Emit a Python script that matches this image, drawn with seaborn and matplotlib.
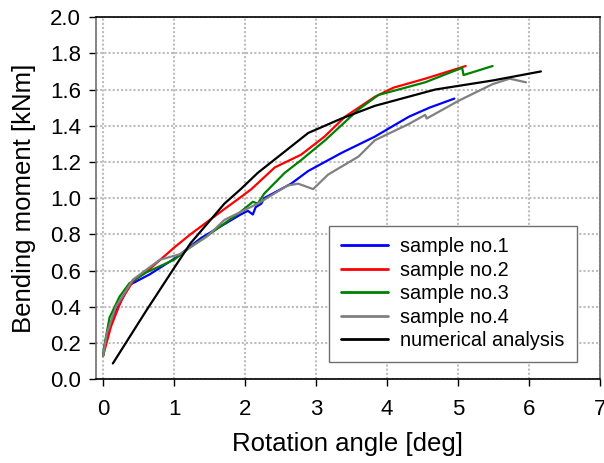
import pandas as pd
import matplotlib.pyplot as plt
import seaborn as sns

# 1. 데이터
s1_x = [0.0, 0.05, 0.16, 0.37, 0.66, 1.04, 1.38, 1.94, 2.04, 2.11, 2.15, 2.23, 2.27, 2.65, 2.89, 3.36, 3.83, 4.31, 4.6, 4.95]
s1_y = [0.13, 0.24, 0.36, 0.52, 0.58, 0.675, 0.78, 0.91, 0.93, 0.91, 0.95, 0.97, 1.0, 1.08, 1.15, 1.25, 1.34, 1.45, 1.50, 1.55]

s2_x = [0.0, 0.11, 0.26, 0.42, 0.66, 1.01, 1.23, 1.71, 1.92, 2.09, 2.42, 2.79, 3.12, 3.41, 3.83, 4.09, 4.54, 5.11]
s2_y = [0.13, 0.29, 0.44, 0.54, 0.61, 0.73, 0.80, 0.94, 1.0, 1.05, 1.17, 1.24, 1.34, 1.45, 1.56, 1.61, 1.66, 1.73]

s3_x = [0.0, 0.01, 0.09, 0.23, 0.37, 0.61, 1.0, 1.23, 1.46, 1.94, 2.11, 2.18, 2.27, 2.56, 2.79, 3.13, 3.6, 3.88, 4.54, 5.06, 5.08, 5.49]
s3_y = [0.13, 0.17, 0.34, 0.455, 0.53, 0.59, 0.66, 0.73, 0.79, 0.925, 0.98, 0.97, 1.025, 1.14, 1.21, 1.32, 1.49, 1.57, 1.64, 1.72, 1.68, 1.73]

s4_x = [0.0, 0.05, 0.18, 0.42, 0.80, 0.94, 1.08, 1.47, 1.71, 2.18, 2.6, 2.75, 2.96, 3.17, 3.6, 3.83, 4.31, 4.54, 4.56, 5.02, 5.49, 5.73, 5.96]
s4_y = [0.13, 0.25, 0.40, 0.55, 0.66, 0.675, 0.69, 0.79, 0.88, 0.97, 1.07, 1.08, 1.05, 1.13, 1.23, 1.32, 1.41, 1.46, 1.44, 1.54, 1.63, 1.66, 1.64]

num_x = [0.137, 0.61, 1.01, 1.23, 1.71, 1.94, 2.18, 2.6, 2.89, 3.36, 3.83, 4.68, 5.49, 6.17]
num_y = [0.087, 0.38, 0.62, 0.75, 0.97, 1.05, 1.14, 1.27, 1.36, 1.44, 1.51, 1.60, 1.65, 1.70]

labels = ['sample no.1', 'sample no.2', 'sample no.3', 'sample no.4', 'numerical analysis']
colors = ['#0000ff', '#ff0000', '#008000', '#808080', '#000000']

series = [(s1_x, s1_y), (s2_x, s2_y), (s3_x, s3_y), (s4_x, s4_y), (num_x, num_y)]
rows = []
for name, (xs, ys) in zip(labels, series):
    for xv, yv in zip(xs, ys):
        rows.append({'series': name, 'angle': xv, 'moment': yv})
df = pd.DataFrame(rows)

# 2. 스타일
sns.set_style('white')
plt.rcParams['font.family'] = ['Liberation Sans', 'DejaVu Sans']
plt.rcParams['text.color'] = 'black'
plt.rcParams['axes.labelcolor'] = 'black'

fig = plt.figure(figsize=(6.04, 4.63), dpi=100)
ax = fig.add_axes([0.159, 0.181, 0.834, 0.782])

sns.lineplot(data=df, x='angle', y='moment', hue='series', hue_order=labels,
             palette=colors, sort=False, estimator=None, linewidth=1.6, ax=ax)

ax.set_xlim(-0.1, 7)
ax.set_ylim(0, 2.0)
ax.set_xticks(range(0, 8))
ax.set_yticks([i / 5 for i in range(11)])
ax.set_yticklabels([f'{i / 5:.1f}' for i in range(11)])
ax.grid(True, color='#bdbdbd', linestyle=(0, (1, 1)), linewidth=1.5)

ax.tick_params(axis='both', direction='out', length=5, width=1, labelsize=16,
               bottom=True, left=True, colors='black')
ax.tick_params(axis='x', pad=9)
ax.tick_params(axis='y', pad=6)
ax.set_xlabel('Rotation angle [deg]', fontsize=18.5, labelpad=9, color='black')
ax.set_ylabel('Bending moment [kNm]', fontsize=18.5, labelpad=10, color='black')

for side in ['top', 'bottom']:
    ax.spines[side].set_color('black')
for side in ['left', 'right']:
    ax.spines[side].set_color('#707070')
for sp in ax.spines.values():
    sp.set_linewidth(1.2)

leg = ax.legend(loc='lower right', bbox_to_anchor=(0.954, 0.048), fontsize=14.3,
                frameon=True, fancybox=False, edgecolor='#707070', framealpha=1,
                handlelength=2.4, labelspacing=0.22, borderpad=0.6, handletextpad=0.6,
                borderaxespad=0)
leg.get_frame().set_linewidth(1.0)
for text in leg.get_texts():
    text.set_color('black')
for line in leg.get_lines():
    line.set_linewidth(2)

fig.savefig('out.png', dpi=100)
